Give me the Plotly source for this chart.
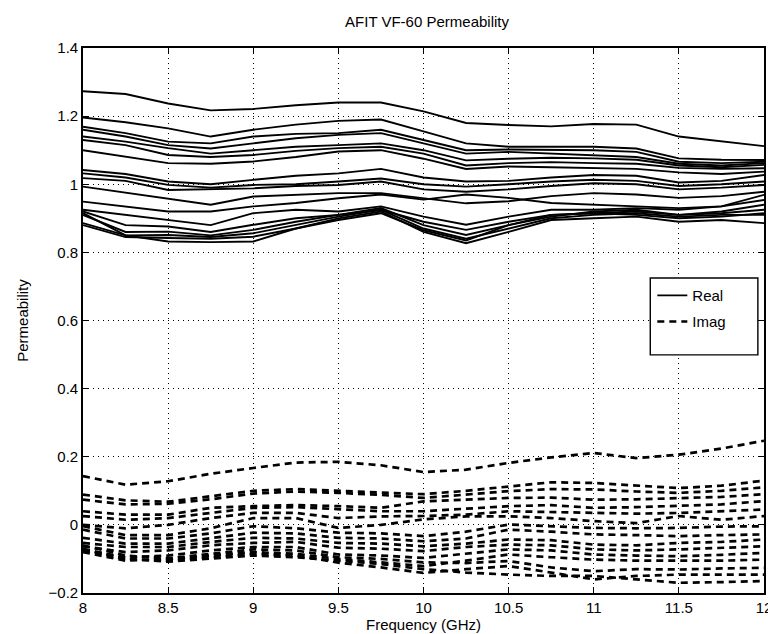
import plotly.graph_objects as go

freq = [8.0, 8.25, 8.5, 8.75, 9.0, 9.25, 9.5, 9.75, 10.0, 10.25, 10.5, 10.75, 11.0, 11.25, 11.5, 11.75, 12.0]

real_curves = [
    [1.273,1.265,1.237,1.217,1.221,1.232,1.240,1.240,1.214,1.180,1.174,1.170,1.177,1.175,1.140,1.125,1.112],
    [1.196,1.182,1.164,1.140,1.160,1.175,1.186,1.190,1.155,1.120,1.110,1.110,1.110,1.105,1.076,1.072,1.071],
    [1.169,1.150,1.125,1.120,1.140,1.148,1.150,1.160,1.130,1.100,1.102,1.100,1.100,1.095,1.066,1.062,1.066],
    [1.160,1.140,1.115,1.105,1.120,1.135,1.145,1.150,1.120,1.090,1.095,1.090,1.086,1.080,1.060,1.055,1.062],
    [1.140,1.125,1.106,1.090,1.100,1.110,1.115,1.120,1.100,1.070,1.075,1.078,1.076,1.072,1.055,1.050,1.057],
    [1.130,1.115,1.086,1.080,1.086,1.098,1.106,1.110,1.090,1.055,1.062,1.065,1.062,1.060,1.048,1.045,1.047],
    [1.100,1.080,1.062,1.060,1.067,1.080,1.096,1.100,1.075,1.045,1.052,1.050,1.047,1.045,1.035,1.030,1.037],
    [1.042,1.030,1.008,1.000,1.013,1.025,1.032,1.045,1.020,1.008,1.010,1.020,1.027,1.025,1.005,1.010,1.027],
    [1.032,1.020,0.998,0.990,0.998,1.000,1.008,1.017,1.000,0.993,1.000,1.008,1.013,1.010,0.995,1.000,1.008],
    [1.018,1.010,0.983,0.985,0.988,0.995,0.998,1.008,0.985,0.978,0.985,0.995,1.003,1.000,0.985,0.990,0.998],
    [0.993,0.975,0.959,0.940,0.964,0.970,0.974,0.974,0.960,0.944,0.950,0.965,0.974,0.970,0.960,0.965,0.978],
    [0.949,0.935,0.920,0.920,0.935,0.945,0.959,0.970,0.955,0.970,0.960,0.945,0.939,0.935,0.930,0.935,0.969],
    [0.925,0.910,0.895,0.880,0.915,0.925,0.920,0.935,0.905,0.881,0.905,0.925,0.925,0.930,0.925,0.935,0.954],
    [0.920,0.880,0.876,0.860,0.881,0.900,0.910,0.925,0.890,0.866,0.890,0.910,0.915,0.920,0.910,0.920,0.940],
    [0.910,0.860,0.861,0.850,0.866,0.890,0.910,0.930,0.880,0.851,0.880,0.905,0.920,0.925,0.910,0.915,0.925],
    [0.886,0.850,0.851,0.845,0.856,0.880,0.905,0.925,0.870,0.840,0.870,0.900,0.910,0.915,0.905,0.910,0.910],
    [0.880,0.845,0.842,0.840,0.846,0.870,0.900,0.920,0.860,0.827,0.860,0.895,0.900,0.905,0.890,0.895,0.886],
    [0.915,0.850,0.832,0.830,0.832,0.870,0.895,0.915,0.865,0.835,0.880,0.910,0.915,0.910,0.900,0.905,0.915],
]

imag_curves = [
    [0.143,0.118,0.128,0.150,0.167,0.183,0.185,0.175,0.155,0.162,0.182,0.198,0.211,0.196,0.206,0.224,0.247],
    [0.089,0.072,0.068,0.085,0.100,0.105,0.100,0.095,0.090,0.100,0.113,0.125,0.123,0.115,0.108,0.115,0.130],
    [0.074,0.060,0.062,0.075,0.092,0.098,0.094,0.088,0.079,0.090,0.099,0.105,0.104,0.098,0.094,0.100,0.110],
    [0.040,0.030,0.030,0.050,0.055,0.058,0.055,0.050,0.069,0.075,0.079,0.080,0.074,0.075,0.079,0.082,0.090],
    [0.026,0.015,0.020,0.035,0.050,0.052,0.045,0.040,0.040,0.048,0.055,0.058,0.050,0.052,0.055,0.060,0.070],
    [0.000,-0.010,0.000,0.020,0.035,0.035,0.020,0.025,0.026,0.030,0.040,0.038,0.035,0.033,0.035,0.040,0.045],
    [-0.004,-0.030,-0.030,-0.010,0.020,0.020,-0.009,0.000,0.016,0.025,0.025,0.020,0.011,0.005,0.026,0.015,0.026],
    [-0.014,-0.040,-0.040,-0.025,-0.004,-0.010,-0.023,-0.025,-0.033,-0.020,0.001,-0.005,-0.009,-0.010,-0.009,-0.005,-0.004],
    [-0.038,-0.055,-0.055,-0.040,-0.023,-0.025,-0.038,-0.040,-0.048,-0.040,-0.014,-0.020,-0.028,-0.030,-0.033,-0.030,-0.028],
    [-0.053,-0.065,-0.065,-0.050,-0.038,-0.040,-0.053,-0.055,-0.063,-0.055,-0.043,-0.045,-0.058,-0.060,-0.053,-0.050,-0.043],
    [-0.063,-0.080,-0.075,-0.060,-0.053,-0.050,-0.067,-0.070,-0.077,-0.065,-0.058,-0.060,-0.072,-0.075,-0.072,-0.068,-0.063],
    [-0.072,-0.095,-0.090,-0.075,-0.065,-0.065,-0.087,-0.090,-0.097,-0.085,-0.072,-0.075,-0.087,-0.090,-0.092,-0.088,-0.082],
    [-0.080,-0.105,-0.100,-0.090,-0.080,-0.085,-0.100,-0.110,-0.121,-0.105,-0.087,-0.095,-0.102,-0.105,-0.106,-0.105,-0.102],
    [-0.060,-0.090,-0.098,-0.085,-0.072,-0.075,-0.095,-0.100,-0.110,-0.112,-0.106,-0.125,-0.136,-0.130,-0.131,-0.128,-0.126],
    [-0.070,-0.100,-0.105,-0.095,-0.085,-0.090,-0.111,-0.125,-0.141,-0.130,-0.121,-0.140,-0.160,-0.150,-0.146,-0.146,-0.146],
    [-0.075,-0.100,-0.108,-0.100,-0.090,-0.095,-0.105,-0.115,-0.130,-0.140,-0.146,-0.150,-0.150,-0.160,-0.170,-0.168,-0.165],
]

x_tickvals = [8, 8.5, 9, 9.5, 10, 10.5, 11, 11.5, 12]
x_ticktext = ["8", "8.5", "9", "9.5", "10", "10.5", "11", "11.5", "12"]
y_tickvals = [-0.2, 0, 0.2, 0.4, 0.6, 0.8, 1.0, 1.2, 1.4]
y_ticktext = ["\u22120.2", "0", "0.2", "0.4", "0.6", "0.8", "1", "1.2", "1.4"]

FONT = "Liberation Sans, Arial"

fig = go.Figure()
for i, c in enumerate(real_curves):
    fig.add_trace(go.Scatter(x=freq, y=c, mode="lines", name="Real",
                             line=dict(color="black", width=1.9),
                             legend="legend", showlegend=(i == 0)))
for i, c in enumerate(imag_curves):
    fig.add_trace(go.Scatter(x=freq, y=c, mode="lines", name="Imag",
                             line=dict(color="black", width=2.7, dash="7px,5px"),
                             legend="legend2", showlegend=(i == 0)))

axis_common = dict(showline=True, linecolor="black", linewidth=1.6, mirror="allticks",
                   ticks="inside", ticklen=6, tickcolor="black", tickwidth=1.3,
                   showgrid=True, gridcolor="black", gridwidth=1.1, griddash="1px,4px",
                   zeroline=False, tickfont=dict(family=FONT, size=15, color="black"))

fig.update_xaxes(range=[8, 12], tickvals=x_tickvals, ticktext=x_ticktext,
                 title=dict(text="Frequency (GHz)", standoff=0,
                            font=dict(family=FONT, size=15, color="black")),
                 **axis_common)
fig.update_yaxes(range=[-0.2, 1.4], tickvals=y_tickvals, ticktext=y_ticktext,
                 title=dict(text="Permeability", standoff=16,
                            font=dict(family=FONT, size=15, color="black")),
                 **axis_common)

# legend frame
fig.add_shape(type="rect", xref="paper", yref="paper",
              x0=0.833, x1=0.991, y0=0.437, y1=0.578,
              line=dict(color="black", width=1.4), fillcolor="white", layer="above")

leg_common = dict(xanchor="left", yanchor="top", bgcolor="rgba(0,0,0,0)", borderwidth=0,
                  font=dict(family=FONT, size=15, color="black"))

fig.update_layout(
    width=776, height=634,
    margin=dict(l=75, r=13, t=40, b=49),
    paper_bgcolor="white", plot_bgcolor="white",
    title=dict(text="AFIT VF-60 Permeability", x=0.54, xanchor="center",
               y=0.978, yanchor="middle",
               font=dict(family=FONT, size=15, color="black")),
    legend=dict(x=0.836, y=0.576, **leg_common),
    legend2=dict(x=0.836, y=0.528, **leg_common),
    showlegend=True,
)

fig.write_html("out.html")
